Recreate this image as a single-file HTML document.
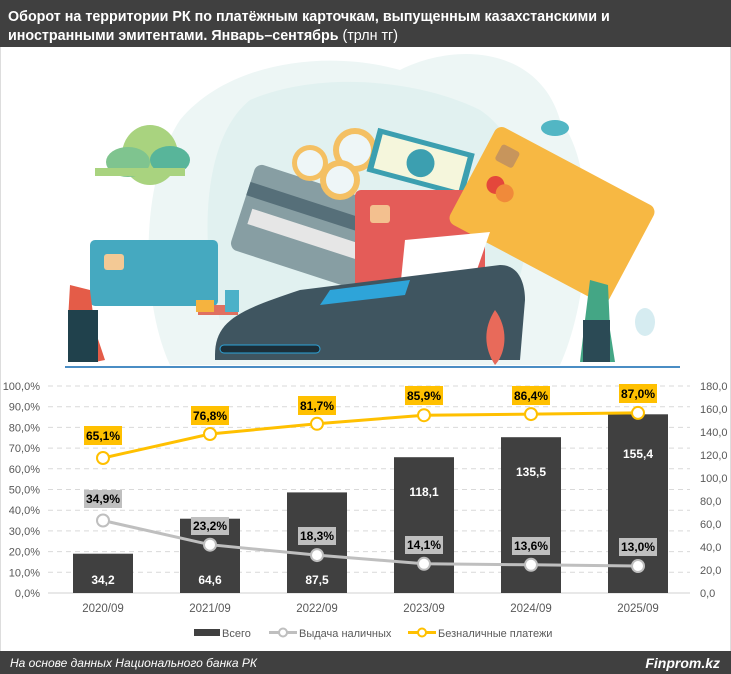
<!DOCTYPE html>
<html><head><meta charset="utf-8"><style>
html,body{margin:0;padding:0;background:#fff;}
svg{display:block;font-family:"Liberation Sans",sans-serif;}
</style></head><body>
<svg width="731" height="674" viewBox="0 0 731 674" xmlns="http://www.w3.org/2000/svg">
<rect width="731" height="674" fill="#fff"/>
<rect x="0" y="0" width="731" height="47" fill="#404040"/>
<text x="8" y="21" fill="#fff" font-size="14.3" font-weight="bold">Оборот на территории РК по платёжным карточкам, выпущенным казахстанскими и</text>
<text x="8" y="40" fill="#fff" font-size="14.3" font-weight="bold">иностранными эмитентами. Январь–сентябрь <tspan font-weight="normal">(трлн тг)</tspan></text>
<rect x="0" y="47" width="1" height="605" fill="#ddd"/><rect x="730" y="47" width="1" height="605" fill="#ddd"/>

<!-- illustration -->
<path d="M180 120 C230 60 330 50 400 70 C460 40 540 50 560 120 C600 170 590 300 560 365 L170 365 C140 300 140 180 180 120Z" fill="#edf6f5"/>
<path d="M250 100 C320 70 420 80 480 110 C540 150 540 260 500 320 L220 320 C200 250 200 140 250 100Z" fill="#dcf0ee" opacity="0.7"/>
<ellipse cx="150" cy="155" rx="28" ry="30" fill="#a9d37f"/>
<ellipse cx="128" cy="162" rx="22" ry="15" fill="#7fc48f"/>
<ellipse cx="170" cy="160" rx="20" ry="14" fill="#58b59a"/>
<rect x="95" y="168" width="90" height="8" fill="#a9d37f"/>
<ellipse cx="555" cy="128" rx="14" ry="8" fill="#52b6c4"/>
<g transform="rotate(18 300 240)"><rect x="235" y="180" width="135" height="90" rx="8" fill="#879ea3"/><rect x="235" y="200" width="135" height="14" fill="#566f79"/><rect x="245" y="225" width="115" height="16" fill="#e6e6e6"/></g>
<circle cx="310" cy="163" r="18" fill="#f4c063"/><circle cx="310" cy="163" r="13" fill="#eef6f7"/>
<circle cx="355" cy="150" r="22" fill="#f4c063"/><circle cx="355" cy="150" r="16" fill="#eef6f7"/>
<circle cx="340" cy="180" r="20" fill="#f4c063"/><circle cx="340" cy="180" r="14" fill="#eef6f7"/>
<g transform="rotate(15 420 165)"><rect x="370" y="140" width="100" height="45" fill="#3c9fb0"/><rect x="376" y="145" width="88" height="35" fill="#f5f6dc"/><circle cx="420" cy="163" r="14" fill="#3c9fb0"/></g>
<rect x="355" y="190" width="130" height="100" rx="6" fill="#e45c58"/><rect x="370" y="205" width="20" height="18" rx="3" fill="#f3c08f"/>
<g transform="rotate(28 552 215)"><rect x="462" y="160" width="180" height="110" rx="8" fill="#f7b843"/><rect x="475" y="175" width="20" height="18" rx="3" fill="#c7955c"/><circle cx="488" cy="215" r="9" fill="#e4473b"/><circle cx="500" cy="218" r="9" fill="#f08a3a"/></g>
<path d="M405 240 L490 232 L470 290 L400 290Z" fill="#fff"/>
<path d="M215 355 C215 320 240 310 300 290 L500 265 C520 265 525 285 525 300 L520 360 L215 360Z" fill="#3f5560"/>
<path d="M330 290 L410 280 L405 295 L320 305Z" fill="#2ea4d9"/>
<rect x="90" y="240" width="128" height="66" rx="5" fill="#45a9c0"/><rect x="104" y="254" width="20" height="16" rx="3" fill="#f3c995"/>
<rect x="220" y="345" width="100" height="8" rx="4" fill="#1b2e38" stroke="#2ea4d9"/>
<path d="M70 285 L90 290 L95 330 L105 360 L95 362 L80 330 L75 362 L68 362 L68 320Z" fill="#e45c48"/>
<rect x="68" y="310" width="30" height="52" fill="#20414c"/>
<rect x="198" y="305" width="40" height="10" fill="#e07060"/><rect x="225" y="290" width="14" height="22" fill="#4cb1c8"/><rect x="196" y="300" width="18" height="12" fill="#f5b33f"/>
<path d="M590 280 L608 285 L610 330 L615 362 L580 362 L585 320Z" fill="#44a685"/><rect x="583" y="320" width="27" height="42" fill="#2b4a55"/>
<path d="M495 310 C510 330 505 355 495 365 C485 350 482 330 495 310Z" fill="#e86a5a"/>
<ellipse cx="645" cy="322" rx="10" ry="14" fill="#d6ecf1"/>
<rect x="65" y="366" width="615" height="2" fill="#4a8dc4"/>

<!-- grid -->
<g stroke="#d9d9d9" stroke-dasharray="5,4" stroke-width="1">
<line x1="48" x2="690" y1="386" y2="386"/><line x1="48" x2="690" y1="406.7" y2="406.7"/><line x1="48" x2="690" y1="427.4" y2="427.4"/><line x1="48" x2="690" y1="448.1" y2="448.1"/><line x1="48" x2="690" y1="468.8" y2="468.8"/><line x1="48" x2="690" y1="489.5" y2="489.5"/><line x1="48" x2="690" y1="510.2" y2="510.2"/><line x1="48" x2="690" y1="530.9" y2="530.9"/><line x1="48" x2="690" y1="551.6" y2="551.6"/><line x1="48" x2="690" y1="572.3" y2="572.3"/>
</g>
<line x1="48" x2="690" y1="593" y2="593" stroke="#d0d0d0"/>
<g font-size="11" fill="#595959" text-anchor="end">
<text x="40" y="390">100,0%</text><text x="40" y="410.7">90,0%</text><text x="40" y="431.4">80,0%</text><text x="40" y="452.1">70,0%</text><text x="40" y="472.8">60,0%</text><text x="40" y="493.5">50,0%</text><text x="40" y="514.2">40,0%</text><text x="40" y="534.9">30,0%</text><text x="40" y="555.6">20,0%</text><text x="40" y="576.3">10,0%</text><text x="40" y="597">0,0%</text>
</g>
<g font-size="11" fill="#595959" text-anchor="start">
<text x="700" y="390">180,0</text><text x="700" y="413">160,0</text><text x="700" y="436">140,0</text><text x="700" y="459">120,0</text><text x="700" y="482">100,0</text><text x="700" y="505">80,0</text><text x="700" y="528">60,0</text><text x="700" y="551">40,0</text><text x="700" y="574">20,0</text><text x="700" y="597">0,0</text>
</g>
<!-- bars -->
<g fill="#404040">
<rect x="73" y="553.7" width="60" height="39.3"/>
<rect x="180" y="518.7" width="60" height="74.3"/>
<rect x="287" y="492.4" width="60" height="100.6"/>
<rect x="394" y="457.2" width="60" height="135.8"/>
<rect x="501" y="437.2" width="60" height="155.8"/>
<rect x="608" y="414.3" width="60" height="178.7"/>
</g>
<g font-size="12" font-weight="bold" fill="#fff" text-anchor="middle">
<text x="103" y="584">34,2</text><text x="210" y="584">64,6</text><text x="317" y="584">87,5</text>
<text x="424" y="496">118,1</text><text x="531" y="476">135,5</text><text x="638" y="458">155,4</text>
</g>
<!-- gray line -->
<polyline points="103,520.5 210,544.7 317,555.1 424,563.8 531,564.8 638,566" fill="none" stroke="#bfbfbf" stroke-width="3"/>
<g fill="#fff" stroke="#bfbfbf" stroke-width="2">
<circle cx="103" cy="520.5" r="6"/><circle cx="210" cy="544.7" r="6"/><circle cx="317" cy="555.1" r="6"/><circle cx="424" cy="563.8" r="6"/><circle cx="531" cy="564.8" r="6"/><circle cx="638" cy="566" r="6"/>
</g>
<g fill="#bfbfbf">
<rect x="84" y="490" width="38" height="18"/><rect x="191" y="517" width="38" height="18"/><rect x="298" y="527" width="38" height="18"/><rect x="405" y="536" width="38" height="18"/><rect x="512" y="537" width="38" height="18"/><rect x="619" y="538" width="38" height="18"/>
</g>
<g font-size="12" font-weight="bold" fill="#000" text-anchor="middle">
<text x="103" y="503">34,9%</text><text x="210" y="530">23,2%</text><text x="317" y="540">18,3%</text><text x="424" y="549">14,1%</text><text x="531" y="550">13,6%</text><text x="638" y="551">13,0%</text>
</g>
<!-- yellow line -->
<polyline points="103,458 210,434 317,423.8 424,415.2 531,414.1 638,412.9" fill="none" stroke="#ffc000" stroke-width="3"/>
<g fill="#fff" stroke="#ffc000" stroke-width="2">
<circle cx="103" cy="458" r="6"/><circle cx="210" cy="434" r="6"/><circle cx="317" cy="423.8" r="6"/><circle cx="424" cy="415.2" r="6"/><circle cx="531" cy="414.1" r="6"/><circle cx="638" cy="412.9" r="6"/>
</g>
<g fill="#ffc000">
<rect x="84" y="426" width="38" height="19"/><rect x="191" y="406" width="38" height="19"/><rect x="298" y="396" width="38" height="19"/><rect x="405" y="386" width="38" height="19"/><rect x="512" y="386" width="38" height="19"/><rect x="619" y="384" width="38" height="19"/>
</g>
<g font-size="12" font-weight="bold" fill="#000" text-anchor="middle">
<text x="103" y="440">65,1%</text><text x="210" y="420">76,8%</text><text x="317" y="410">81,7%</text><text x="424" y="400">85,9%</text><text x="531" y="400">86,4%</text><text x="638" y="398">87,0%</text>
</g>
<g font-size="11.5" fill="#595959" text-anchor="middle">
<text x="103" y="612">2020/09</text><text x="210" y="612">2021/09</text><text x="317" y="612">2022/09</text><text x="424" y="612">2023/09</text><text x="531" y="612">2024/09</text><text x="638" y="612">2025/09</text>
</g>
<!-- legend -->
<rect x="194" y="629" width="26" height="7" fill="#404040"/>
<text x="222" y="637" font-size="11" fill="#595959">Всего</text>
<line x1="269" x2="297" y1="632.5" y2="632.5" stroke="#bfbfbf" stroke-width="3"/><circle cx="283" cy="632.5" r="4" fill="#fff" stroke="#bfbfbf" stroke-width="2"/>
<text x="299" y="637" font-size="11" fill="#595959">Выдача наличных</text>
<line x1="408" x2="436" y1="632.5" y2="632.5" stroke="#ffc000" stroke-width="3"/><circle cx="422" cy="632.5" r="4" fill="#fff" stroke="#ffc000" stroke-width="2"/>
<text x="438" y="637" font-size="11" fill="#595959">Безналичные платежи</text>
<!-- footer -->
<rect x="0" y="651" width="731" height="23" fill="#404040"/>
<text x="10" y="667" font-size="12" font-style="italic" fill="#fff">На основе данных Национального банка РК</text>
<text x="720" y="668" font-size="14" font-style="italic" font-weight="bold" fill="#fff" text-anchor="end">Finprom.kz</text>
</svg>
</body></html>
